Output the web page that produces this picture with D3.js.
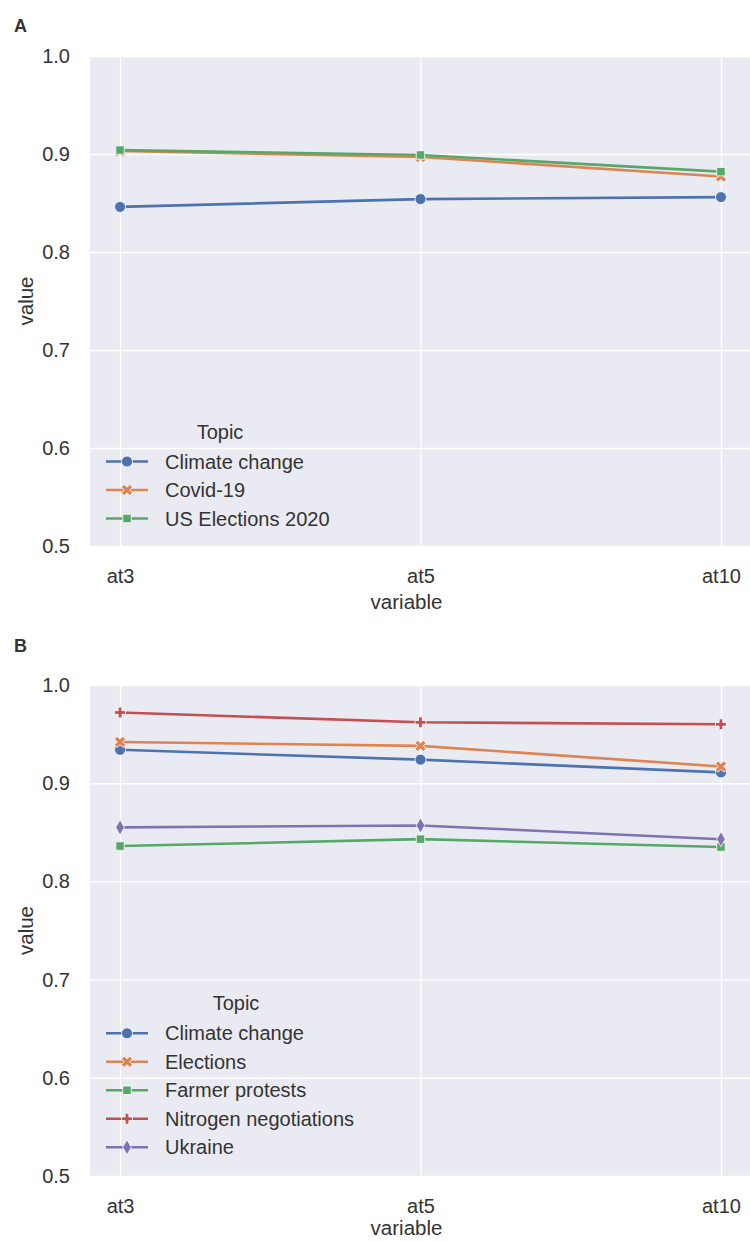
<!DOCTYPE html>
<html>
<head>
<meta charset="utf-8">
<script src="https://cdn.jsdelivr.net/npm/d3@7"></script>
<style>
    body { margin: 0; background: #fff; }
    text { font-family: "Liberation Sans", Arial, sans-serif; fill: #333; }
</style>
</head>
<body>
<div id="chart"></div>
<script>

// x categories and y ticks
const steps = ["at3", "at5", "at10"];
const yTicks = [0.5, 0.6, 0.7, 0.8, 0.9, 1.0];

// panel A
const topicsA = ["Climate change", "Covid-19", "US Elections 2020"];
const climateA = [0.846, 0.854, 0.856];
const covidA = [0.903, 0.897, 0.877];
const usElectionsA = [0.904, 0.899, 0.882];

// panel B
const topicsB = ["Climate change", "Elections", "Farmer protests", "Nitrogen negotiations", "Ukraine"];
const climateB = [0.934, 0.924, 0.911];
const electionsB = [0.942, 0.938, 0.917];
const farmerB = [0.836, 0.843, 0.835];
const nitrogenB = [0.972, 0.962, 0.960];
const ukraineB = [0.855, 0.857, 0.843];

// seaborn "deep" colours + default marker cycle
const colors = ["#4c72b0", "#dd8452", "#55a868", "#c44e52", "#8172b3"];
const markers = [
    {type: d3.symbolCircle, size: 95, rot: 0},
    {type: d3.symbolCross, size: 80, rot: 45},
    {type: d3.symbolSquare, size: 72, rot: 0},
    {type: d3.symbolCross, size: 66, rot: 0},
    {type: d3.symbolDiamond, size: 66, rot: 0}
];

const W = 750, H = 1241;
const svg = d3.select("#chart").append("svg")
    .attr("width", W)
    .attr("height", H);

function drawPanel(cfg) {
    let left = 90, right = 751;
    let g = svg.append("g");

    let x = d3.scalePoint()
        .domain(steps)
        .range([left, right])
        .padding(0.1);

    let y = d3.scaleLinear()
        .domain([0.5, 1.0])
        .range([cfg.bottom, cfg.top]);

    // background
    g.append("rect")
        .attr("x", left)
        .attr("y", cfg.top)
        .attr("width", right - left)
        .attr("height", cfg.bottom - cfg.top)
        .attr("fill", "#eaeaf2");

    // grid
    let gy = g.append("g")
        .attr("transform", "translate(" + left + ",0)")
        .call(d3.axisLeft(y).tickValues(yTicks).tickSize(-(right - left)).tickFormat(""));
    let gx = g.append("g")
        .attr("transform", "translate(0," + cfg.bottom + ")")
        .call(d3.axisBottom(x).tickSize(-(cfg.bottom - cfg.top)).tickFormat(""));
    [gy, gx].forEach(a => {
        a.select(".domain").remove();
        a.selectAll("line").attr("stroke", "#fff").attr("stroke-width", 1.4);
    });

    // tick labels
    let ay = g.append("g")
        .attr("transform", "translate(" + left + ",0)")
        .call(d3.axisLeft(y).tickValues(yTicks).tickFormat(d3.format(".1f")).tickSize(0).tickPadding(20));
    let ax = g.append("g")
        .attr("transform", "translate(0," + cfg.bottom + ")")
        .call(d3.axisBottom(x).tickSize(0).tickPadding(23));
    [ay, ax].forEach(a => {
        a.select(".domain").remove();
        a.selectAll("text")
            .attr("fill", "#333")
            .style("font-size", "20px")
            .style("font-family", '"Liberation Sans", Arial, sans-serif');
    });

    // axis titles
    g.append("text")
        .attr("x", (left + 721) / 2 + 1)
        .attr("y", cfg.bottom + cfg.xTitleOff)
        .attr("text-anchor", "middle")
        .style("font-size", "20.5px")
        .text("variable");
    g.append("text")
        .attr("transform", "translate(33," + (cfg.top + cfg.bottom) / 2 + ") rotate(-90)")
        .attr("text-anchor", "middle")
        .style("font-size", "20.5px")
        .text("value");

    // panel letter
    g.append("text")
        .attr("x", 14)
        .attr("y", cfg.labelY)
        .style("font-size", "18px")
        .style("font-weight", "bold")
        .attr("fill", "#000")
        .text(cfg.label);

    // lines + markers
    let line = d3.line()
        .x((d, i) => x(steps[i]))
        .y(d => y(d));

    cfg.series.forEach((vals, k) => {
        g.append("path")
            .attr("d", line(vals))
            .attr("fill", "none")
            .attr("stroke", colors[k])
            .attr("stroke-width", 2.6);
        let m = markers[k];
        g.selectAll(".m" + k)
            .data(vals)
            .enter()
            .append("path")
            .attr("class", "m" + k)
            .attr("d", d3.symbol().type(m.type).size(m.size))
            .attr("transform", (d, i) => "translate(" + x(steps[i]) + "," + y(d) + ") rotate(" + m.rot + ")")
            .attr("fill", colors[k])
            .attr("stroke", "#fff")
            .attr("stroke-width", 0.8);
    });

    // legend
    let lg = g.append("g");
    lg.append("text")
        .attr("x", cfg.titleX)
        .attr("y", cfg.legendY - 30)
        .attr("dy", "0.35em")
        .attr("text-anchor", "middle")
        .style("font-size", "20px")
        .text("Topic");

    cfg.topics.forEach((name, k) => {
        let yy = cfg.legendY + k * 28.5;
        let m = markers[k];
        lg.append("line")
            .attr("x1", 106).attr("x2", 148)
            .attr("y1", yy).attr("y2", yy)
            .attr("stroke", colors[k])
            .attr("stroke-width", 2.6);
        lg.append("path")
            .attr("d", d3.symbol().type(m.type).size(m.size))
            .attr("transform", "translate(127," + yy + ") rotate(" + m.rot + ")")
            .attr("fill", colors[k])
            .attr("stroke", "#fff")
            .attr("stroke-width", 0.8);
        lg.append("text")
            .attr("x", 165)
            .attr("y", yy)
            .attr("dy", "0.35em")
            .style("font-size", "20px")
            .text(name);
    });
}

drawPanel({
    label: "A", labelY: 32, top: 56, bottom: 546, xTitleOff: 63,
    series: [climateA, covidA, usElectionsA],
    topics: topicsA, legendY: 461.5, titleX: 220
});

drawPanel({
    label: "B", labelY: 652, top: 685, bottom: 1176, xTitleOff: 59,
    series: [climateB, electionsB, farmerB, nitrogenB, ukraineB],
    topics: topicsB, legendY: 1033.3, titleX: 236
});

</script>
</body>
</html>
